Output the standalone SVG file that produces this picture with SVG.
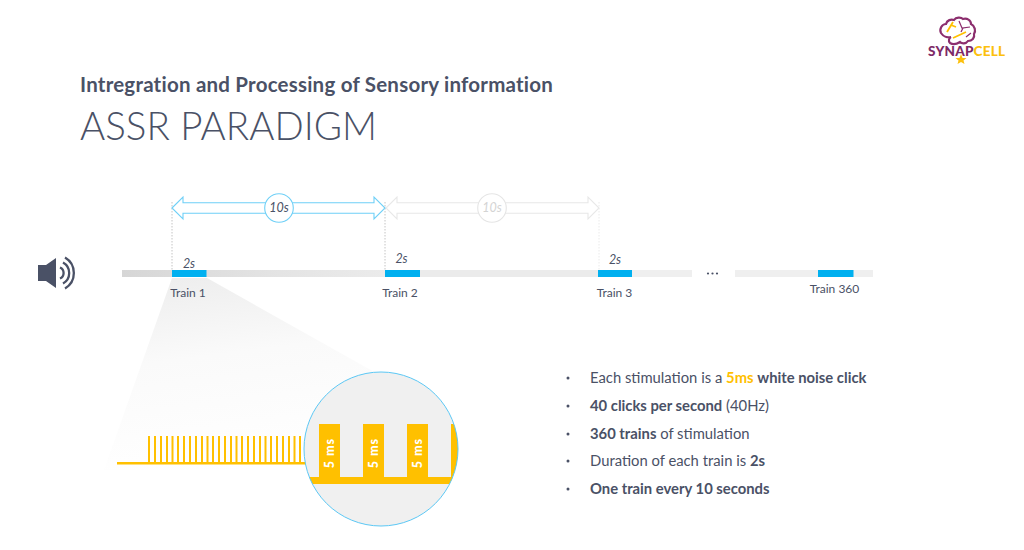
<svg xmlns="http://www.w3.org/2000/svg" width="1024" height="550" viewBox="0 0 1024 550">
<style>
text{font-family:"Lato","Liberation Sans",sans-serif;fill:#4a5166}
.t{font-size:12px;text-anchor:middle}
.d{font-size:12.5px;font-style:italic;text-anchor:middle}
.b{font-size:14.8px}
.s{font-weight:700}
.bar{fill:#00b0f0}
.dot{fill:#4a5166}
.ms{font-size:12.5px;font-weight:900;fill:#fff;text-anchor:middle;letter-spacing:1px}
.y{fill:#ffc000}
</style>
<defs>
<linearGradient id="tl" x1="0" y1="0" x2="1" y2="0"><stop offset="0" stop-color="#d6d6d6"/><stop offset="0.6" stop-color="#e4e4e4"/><stop offset="1" stop-color="#ebebeb"/></linearGradient>
<linearGradient id="cone" gradientUnits="userSpaceOnUse" x1="190" y1="278" x2="215" y2="475"><stop offset="0" stop-color="#eeeeee"/><stop offset="0.4" stop-color="#fafafa"/><stop offset="1" stop-color="#fff"/></linearGradient>
<path id="arrow" d="M0 0L11 -11V-5.300H202V-11L213 0L202 11V5.300H11V11Z" fill="#fff" stroke-width="1.100"/>
</defs>
<rect width="1024" height="550" fill="#fff"/>
<g id="title">
<text x="80" y="92" font-size="20.500" font-weight="700" letter-spacing=".22">Intregration and Processing of Sensory information</text>
<text x="80" y="140" font-size="38.500" font-weight="300">ASSR PARADIGM</text>
</g>
<g id="logo">
<path d="M941 33C939 29 942 24 946 24C947 20 951 19 954 20C956 17 961 17 963 19C967 18 971 20 971 24C975 26 976 31 974 34C975 38 972 41 968 41C966 44 962 44 960 42C957 44 953 45 950 43C948 41 949 38 951 37C947 38 943 36 941 33Z" fill="#fff" stroke="#8c2f6e" stroke-width="2.200"/>
<path d="M947 32L953 22M951 25L956 27M953 38L966 32" stroke="#ffc000" stroke-width="1.800" fill="none"/>
<path d="M959 21L962 28L970 27M966 37L971 33M963 28L961 32" stroke="#8c2f6e" stroke-width="1.200" fill="none"/>
<text x="928" y="55.500" font-size="13.500" font-weight="900" textLength="77" lengthAdjust="spacing" style="fill:#7d2a66"><tspan>SYNAP</tspan><tspan style="fill:#fcc00d">CELL</tspan></text>
<polygon points="961,54 962.500,58 966.500,58 963.500,60.500 964.500,64 961,62 957.500,64 958.500,60.500 955.500,58 959.500,58" fill="#fcc00d"/>
</g>
<g id="speaker">
<path d="M38 265H46L56 258V288L46 281H38Z" fill="#4a5166"/>
<g fill="none" stroke="#4a5166" stroke-width="2.300">
<path d="M60 267.500A6 6 0 0 1 60 278.500"/>
<path d="M63 262.500A12 12 0 0 1 63 283.500"/>
<path d="M65 257.500A18 18 0 0 1 65 288.500"/>
</g>
</g>
<g id="cone">
<polygon points="172,278 207,278 385,378 305,470 104,470" fill="url(#cone)"/>
</g>
<g id="connectors">
<g stroke-dasharray="1.500 1.500" stroke-width="0.800" fill="none">
<path d="M172 202V270M385 202V270" stroke="#b5b5b5"/>
<path d="M599 202V270" stroke="#e5e5e5"/>
</g>
<use href="#arrow" transform="translate(386,208)" stroke="#e8e8e8"/>
<use href="#arrow" transform="translate(172,208)" stroke="#6fd0f7"/>
</g>
<g id="marker-10s-1"><circle cx="279" cy="208" r="14.300" fill="#fff" stroke="#6fd0f7" stroke-width="1.100"/><text class="d" x="279" y="212">10s</text></g>
<g id="marker-10s-2"><circle cx="492" cy="208" r="14.300" fill="#fff" stroke="#e5e5e5" stroke-width="1.100"/><text x="492" y="212" style="font-size:12.500px;font-style:italic;text-anchor:middle;fill:#d4d4d4">10s</text></g>
<g id="timeline">
<rect x="122" y="270" width="263" height="7" fill="url(#tl)"/>
<rect x="385" y="270" width="214" height="7" fill="#ebebeb"/>
<rect x="599" y="270" width="93" height="7" fill="#efefef"/>
<rect x="735" y="270" width="138" height="7" fill="#efefef"/>
<circle class="dot" cx="708" cy="273.500" r="1.100"/><circle class="dot" cx="712.500" cy="273.500" r="1.100"/><circle class="dot" cx="717" cy="273.500" r="1.100"/>
</g>
<g id="train-1"><rect class="bar" x="172" y="270" width="34.500" height="7"/><text class="d" x="189" y="268">2s</text><text class="t" x="188" y="297">Train 1</text></g>
<g id="train-2"><rect class="bar" x="385" y="270" width="35" height="7"/><text class="d" x="401.500" y="263">2s</text><text class="t" x="400" y="297">Train 2</text></g>
<g id="train-3"><rect class="bar" x="598" y="270" width="34" height="7"/><text class="d" x="615" y="264">2s</text><text class="t" x="614.500" y="297">Train 3</text></g>
<g id="train-360"><rect class="bar" x="818" y="270" width="35.500" height="7"/><text class="t" x="834.500" y="293">Train 360</text></g>
<g id="pulse-train" class="y">
<rect x="117" y="462" width="190" height="2.500"/>
<path id="ticks" fill="none" stroke="#ffc000" stroke-width="2" d="M149 436V463M155 436V463M161 436V463M167 436V463M172.500 436V463M178 436V463M184 436V463M190 436V463M196 436V463M202 436V463M207.500 436V463M213 436V463M219 436V463M225 436V463M231 436V463M236.500 436V463M242 436V463M248 436V463M254 436V463M260 436V463M265.500 436V463M271 436V463M277 436V463M283 436V463M289 436V463M294.500 436V463M300 436V463"/>
</g>
<g id="magnifier">
<clipPath id="c"><circle cx="381" cy="449" r="77"/></clipPath>
<circle cx="381" cy="449" r="77" fill="#f0f0f0"/>
<g clip-path="url(#c)" class="y">
<rect x="300" y="477" width="170" height="7"/>
<rect x="319" y="424" width="21" height="58"/>
<rect x="363" y="424" width="21" height="58"/>
<rect x="407" y="424" width="21" height="58"/>
<rect x="451" y="424" width="21" height="58"/>
</g>
<circle cx="381" cy="449" r="77" fill="none" stroke="#5cc8f5" stroke-width="1"/>
<text class="ms" transform="translate(334,453) rotate(-90)">5 ms</text>
<text class="ms" transform="translate(378,453) rotate(-90)">5 ms</text>
<text class="ms" transform="translate(422,453) rotate(-90)">5 ms</text>
</g>
<g id="bullets" class="b">
<circle class="dot" cx="568" cy="378" r="1.500"/><text x="590" y="383">Each stimulation is a <tspan class="s" style="fill:#ffc000">5ms</tspan> <tspan class="s">white noise click</tspan></text>
<circle class="dot" cx="568" cy="406" r="1.500"/><text x="590" y="411"><tspan class="s">40 clicks per second</tspan> (40Hz)</text>
<circle class="dot" cx="568" cy="434" r="1.500"/><text x="590" y="439"><tspan class="s">360 trains</tspan> of stimulation</text>
<circle class="dot" cx="568" cy="461" r="1.500"/><text x="590" y="466">Duration of each train is <tspan class="s">2s</tspan></text>
<circle class="dot" cx="568" cy="489" r="1.500"/><text x="590" y="494" class="s">One train every 10 seconds</text>
</g>
</svg>
